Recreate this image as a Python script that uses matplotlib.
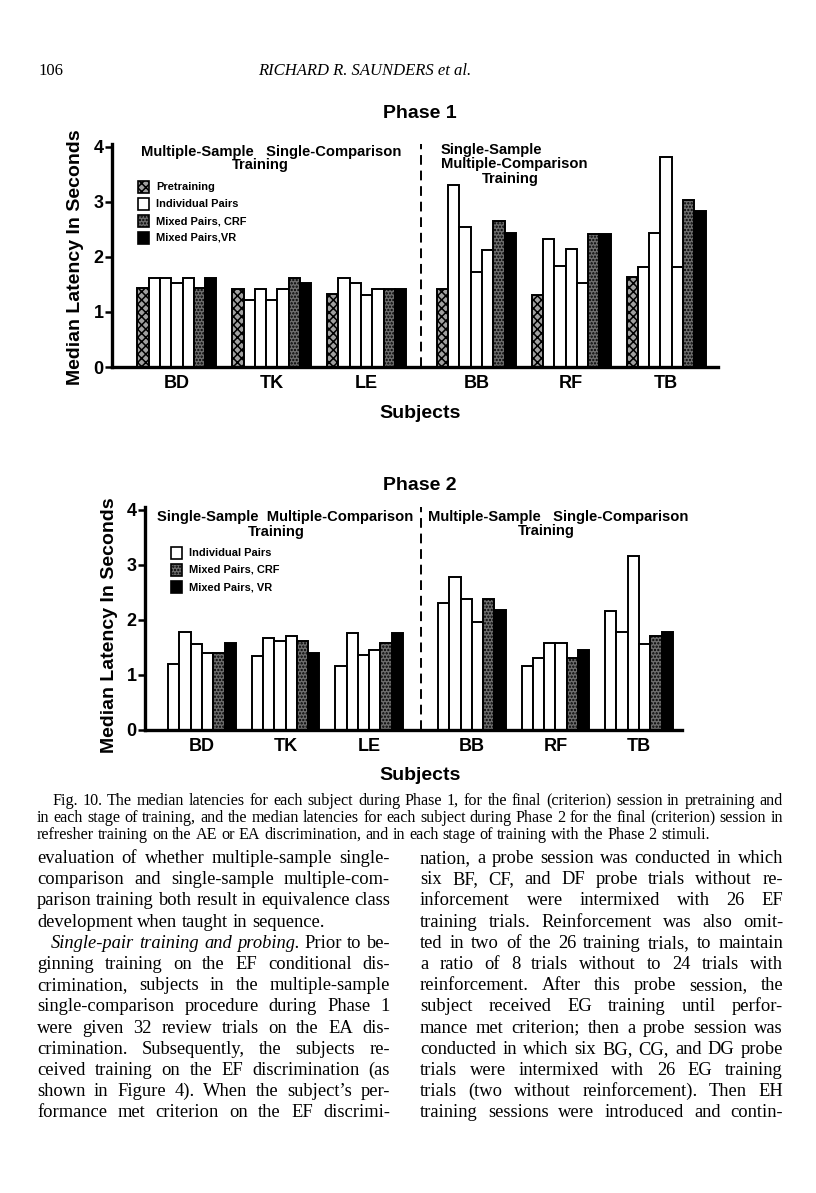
import matplotlib
matplotlib.use('Agg')
import matplotlib.pyplot as plt
from matplotlib.patches import Rectangle

W, H = 816, 1193
plt.rcParams['hatch.color'] = 'black'
plt.rcParams['hatch.linewidth'] = 1.1
SANS = 'Liberation Sans'
SERIF = 'Liberation Serif'

subjects = ['BD', 'TK', 'LE', 'BB', 'RF', 'TB']

# Phase 1: pretraining, four individual-pair stages, mixed pairs CRF, mixed pairs VR
p1_pre = [1.43, 1.41, 1.32, 1.42, 1.30, 1.64]
p1_ind = [[1.62, 1.62, 1.53, 1.62],
          [1.22, 1.41, 1.22, 1.41],
          [1.61, 1.52, 1.30, 1.41],
          [3.30, 2.55, 1.73, 2.13],
          [2.33, 1.83, 2.14, 1.52],
          [1.82, 2.44, 3.82, 1.82]]
p1_crf = [1.44, 1.62, 1.41, 2.65, 2.42, 3.03]
p1_vr = [1.62, 1.53, 1.41, 2.44, 2.42, 2.84]

# Phase 2: four individual-pair stages, mixed pairs CRF, mixed pairs VR
p2_ind = [[1.19, 1.78, 1.57, 1.39],
          [1.34, 1.67, 1.61, 1.70],
          [1.16, 1.77, 1.36, 1.46],
          [2.30, 2.77, 2.38, 1.97],
          [1.17, 1.30, 1.58, 1.58],
          [2.17, 1.78, 3.16, 1.57]]
p2_crf = [1.39, 1.61, 1.58, 2.38, 1.30, 1.70]
p2_vr = [1.58, 1.40, 1.76, 2.18, 1.46, 1.78]

yticks = [0, 1, 2, 3, 4]

PRE = dict(facecolor='#a0a0a0', hatch='xxxx', edgecolor='black')
IND = dict(facecolor='white', edgecolor='black')
CRF = dict(facecolor='#6e6e6e', hatch='.....', edgecolor='black')
VR = dict(facecolor='black', edgecolor='black')


def fx(x):
    return x / W


def fy(y):
    return 1 - y / H


fig = plt.figure(figsize=(W / 100, H / 100), dpi=100)


def draw_phase(rect, step, extra, xlim, pre, ind, crf, vr):
    ax = fig.add_axes(rect)
    centers = []
    for i in range(len(subjects)):
        c = i * step + (extra if i >= 3 else 0)
        centers.append(c)
        vals = ([pre[i]] if pre else []) + ind[i] + [crf[i], vr[i]]
        styles = ([PRE] if pre else []) + [IND] * len(ind[i]) + [CRF, VR]
        n = len(vals)
        for k in range(n):
            ax.bar(c + k - (n - 1) / 2, vals[k], width=1, linewidth=1.4, **styles[k])
    div = (centers[2] + centers[3]) / 2
    ax.axvline(div, ymin=0, ymax=1, color='black', lw=1.4, ls=(0, (5, 3)))
    ax.set_xlim(*xlim)
    ax.set_ylim(0, 4.05)
    for s in ['top', 'right']:
        ax.spines[s].set_visible(False)
    for s in ['left', 'bottom']:
        ax.spines[s].set_linewidth(2.4)
    ax.set_yticks(yticks)
    ax.set_yticklabels([str(t) for t in yticks], fontsize=13, fontweight='bold', family=SANS)
    ax.tick_params(axis='y', length=5, width=1.8, pad=1)
    ax.set_xticks(centers)
    ax.set_xticklabels(subjects, fontsize=13, fontweight='bold', family=SANS)
    ax.tick_params(axis='x', length=0, pad=6)
    return ax


ax1 = draw_phase([fx(112), fy(367), fx(718 - 112), (367 - 144) / H], 8.4, 1.3,
                 (-5.75, 47.9), p1_pre, p1_ind, p1_crf, p1_vr)
ax2 = draw_phase([fx(145), fy(730), fx(682 - 145), (730 - 507) / H], 7.4, 1.7,
                 (-5.04, 42.5), None, p2_ind, p2_crf, p2_vr)

bold = dict(fontweight='bold', family=SANS, ha='center', va='center')
fig.text(fx(420), fy(114), 'Phase 1', fontsize=14, **bold)
fig.text(fx(420), fy(413), 'Subjects', fontsize=14, **bold)
fig.text(fx(420), fy(486), 'Phase 2', fontsize=14, **bold)
fig.text(fx(420), fy(776), 'Subjects', fontsize=14, **bold)
fig.text(fx(75), fy(257), 'Median Latency In Seconds', fontsize=14, rotation=90, **bold)
fig.text(fx(110), fy(625), 'Median Latency In Seconds', fontsize=14, rotation=90, **bold)

# stage annotations
fig.text(fx(271), fy(152), 'Multiple-Sample   Single-Comparison', fontsize=10.6, **bold)
fig.text(fx(260), fy(165), 'Training', fontsize=10.6, **bold)
fig.text(fx(441), fy(150), 'Single-Sample', fontsize=10.6, fontweight='bold', family=SANS, va='center')
fig.text(fx(441), fy(164), 'Multiple-Comparison', fontsize=10.6, fontweight='bold', family=SANS, va='center')
fig.text(fx(510), fy(179), 'Training', fontsize=10.6, **bold)
fig.text(fx(285), fy(517), 'Single-Sample  Multiple-Comparison', fontsize=10.6, **bold)
fig.text(fx(276), fy(532), 'Training', fontsize=10.6, **bold)
fig.text(fx(558), fy(517), 'Multiple-Sample   Single-Comparison', fontsize=10.6, **bold)
fig.text(fx(546), fy(531), 'Training', fontsize=10.6, **bold)

# legends
leg1 = [('Pretraining', PRE), ('Individual Pairs', IND), ('Mixed Pairs, CRF', CRF), ('Mixed Pairs,VR', VR)]
leg2 = [('Individual Pairs', IND), ('Mixed Pairs, CRF', CRF), ('Mixed Pairs, VR', VR)]


def legend(items, x, y0, dy):
    for j, (lab, st) in enumerate(items):
        yc = y0 + j * dy
        fig.add_artist(Rectangle((fx(x), fy(yc + 6)), 11 / W, 12 / H, transform=fig.transFigure,
                                 linewidth=1.2, **st))
        fig.text(fx(x + 18), fy(yc), lab, fontsize=7.9, fontweight='bold', family=SANS, va='center')


legend(leg1, 138, 187, 17)
legend(leg2, 171, 553, 17)

# page text
fig.text(fx(38), fy(75), '106', fontsize=12, family=SERIF, va='baseline')
fig.text(fx(258), fy(75), 'RICHARD R. SAUNDERS et al.', fontsize=12, family=SERIF,
         style='italic', va='baseline', ha='left')

caption = [
    ('Fig. 10.  The median latencies for each subject during Phase 1, for the final (criterion) session in pretraining and', True, 52),
    ('in each stage of training, and the median latencies for each subject during Phase 2 for the final (criterion) session in', True, 37),
    ('refresher training on the AE or EA discrimination, and in each stage of training with the Phase 2 stimuli.', False, 37),
]
left_col = [
    ('evaluation of whether multiple-sample single-', True, 37),
    ('comparison and single-sample multiple-com-', True, 37),
    ('parison training both result in equivalence class', True, 37),
    ('development when taught in sequence.', False, 37),
    ('_Single-pair _training _and _probing. Prior to be-', True, 51),
    ('ginning training on the EF conditional dis-', True, 37),
    ('crimination, subjects in the multiple-sample', True, 37),
    ('single-comparison procedure during Phase 1', True, 37),
    ('were given 32 review trials on the EA dis-', True, 37),
    ('crimination. Subsequently, the subjects re-', True, 37),
    ('ceived training on the EF discrimination (as', True, 37),
    ('shown in Figure 4). When the subject\u2019s per-', True, 37),
    ('formance met criterion on the EF discrimi-', True, 37),
]
right_col = [
    'nation, a probe session was conducted in which',
    'six BF, CF, and DF probe trials without re-',
    'inforcement were intermixed with 26 EF',
    'training trials. Reinforcement was also omit-',
    'ted in two of the 26 training trials, to maintain',
    'a ratio of 8 trials without to 24 trials with',
    'reinforcement. After this probe session, the',
    'subject received EG training until perfor-',
    'mance met criterion; then a probe session was',
    'conducted in which six BG, CG, and DG probe',
    'trials were intermixed with 26 EG training',
    'trials (two without reinforcement). Then EH',
    'training sessions were introduced and contin-',
]

renderer = fig.canvas.get_renderer()


def natural_width(line, size):
    t = fig.text(0, 0, line, fontsize=size, family=SERIF)
    w = t.get_window_extent(renderer).width
    t.remove()
    return w


def put_line(y, line, x0, x1, size, justify):
    arts = []
    for w in line.split():
        st = 'normal'
        if w.startswith('_'):
            w = w[1:]
            st = 'italic'
        arts.append(fig.text(0, fy(y), w, fontsize=size, family=SERIF, style=st, va='baseline'))
    widths = [t.get_window_extent(renderer).width for t in arts]
    if justify and len(arts) > 1:
        gap = (x1 - x0 - sum(widths)) / (len(arts) - 1)
    else:
        gap = 0.25 * size * 100 / 72
    x = x0
    for t, wd in zip(arts, widths):
        t.set_x(fx(x))
        x += wd + gap


cap_size = 10 * 744 / natural_width(caption[1][0], 10)
body_size = min(10 * 352 / natural_width(left_col[2][0], 10),
                10 * 362 / natural_width(right_col[4], 10))

for j, (line, just, x0) in enumerate(caption):
    put_line(805 + j * 17, line, x0, 783, cap_size, just)
for j, (line, just, x0) in enumerate(left_col):
    put_line(863 + j * 21.2, line, x0, 390, body_size, just)
for j, line in enumerate(right_col):
    put_line(863 + j * 21.2, line, 420, 783, body_size, True)

fig.savefig('out.png', dpi=100)
